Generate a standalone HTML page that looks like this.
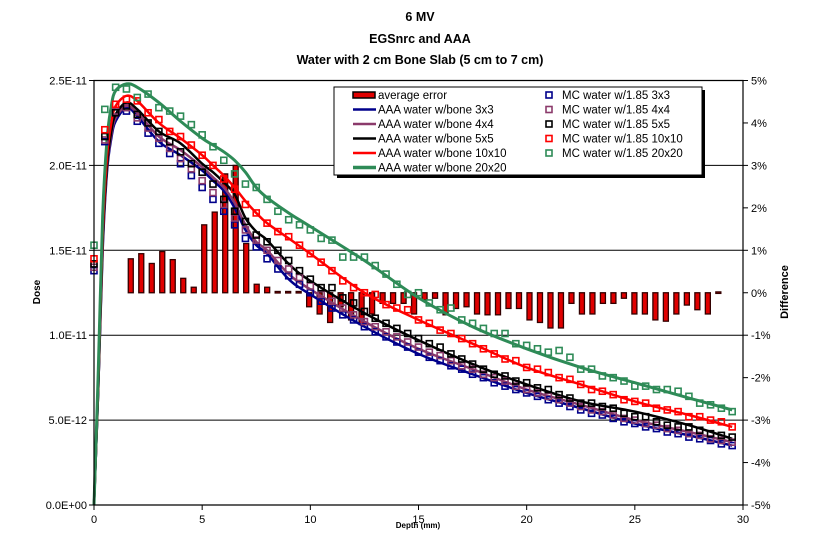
<!DOCTYPE html>
<html><head><meta charset="utf-8"><style>
html,body{margin:0;padding:0;background:#fff;}
svg{display:block;font-family:"Liberation Sans",Arial,sans-serif;}
</style></head><body>
<svg id="chart" width="834" height="552" viewBox="0 0 834 552">
<g font-weight="bold" font-size="12.5" text-anchor="middle" fill="#000">
<text x="420" y="21">6 MV</text>
<text x="420" y="43">EGSnrc and AAA</text>
<text x="420" y="64">Water with 2 cm Bone Slab (5 cm to 7 cm)</text>
</g>
<g id="grid"></g>
<g id="bars"></g>
<g id="lines"></g>
<g id="marks"></g>
<g id="axes"></g>
<text x="40" y="292" transform="rotate(-90 40 292)" text-anchor="middle" font-size="10" font-weight="bold">Dose</text>
<text x="788" y="292" transform="rotate(-90 788 292)" text-anchor="middle" font-size="11" font-weight="bold">Difference</text>
<text x="418" y="528" text-anchor="middle" font-size="8" font-weight="bold">Depth (mm)</text>
<g id="legend"></g>
</svg>
<script>
const lineDepths=[0,0.2,0.4,0.6,0.8,1,1.5,2,3,4,5,5.5,6,6.5,7,7.5,8,9,10,12.5,15,17.5,20,22.5,25,27.5,29.5];
const aaa3=[0,7,15,19.6,21.6,22.6,23.4,22.9,21.4,20.6,19.7,19.1,18.5,17.5,16.2,15.3,14.8,13.3,12.4,10.5,8.9,7.7,6.6,5.7,4.8,4.1,3.5];
const aaa4=[0,7,15.3,19.8,21.8,22.8,23.5,23.1,21.7,20.9,19.9,19.3,18.7,17.8,16.5,15.5,15.0,13.6,12.7,10.8,9.2,8.0,6.8,5.9,5.0,4.3,3.7];
const aaa5=[0,7,15.5,20,22,23,23.7,23.3,22.0,21.3,20.1,19.6,19.0,18.3,16.9,16.1,15.6,14.2,13.2,11.3,9.7,8.3,7.1,6.1,5.5,4.7,3.9];
const aaa10=[0,7.5,16,20.5,22.5,23.5,24.1,23.8,22.5,21.6,20.6,20.0,19.4,18.7,17.9,17.2,16.6,15.7,14.8,12.5,10.9,9.5,8.1,7.1,6.1,5.3,4.6];
const aaa20=[0,8,17,21.5,23.5,24.4,24.8,24.6,23.7,22.6,21.6,21.2,20.8,20.3,19.6,18.7,18.1,17.2,16.4,14.4,12.2,10.5,9.2,8.1,7.2,6.3,5.6];
const mcStep=0.5;
const mc3=[13.8,21.4,23.1,23.2,22.6,21.9,21.3,20.7,20.1,19.4,18.7,18.0,17.3,16.5,15.7,15.2,14.5,13.9,13.5,13.0,12.5,12.0,11.6,11.2,10.9,10.5,10.2,9.9,9.6,9.3,9.0,8.7,8.5,8.2,8.0,7.7,7.5,7.2,7.0,6.8,6.6,6.4,6.2,6.0,5.8,5.6,5.4,5.3,5.1,4.9,4.8,4.6,4.5,4.3,4.2,4.0,3.9,3.8,3.6,3.5];
const mc4=[14.0,21.5,23.2,23.4,22.8,22.2,21.6,21.0,20.4,19.8,19.1,18.4,17.7,16.9,16.2,15.6,15.0,14.4,13.9,13.4,12.9,12.4,12.0,11.6,11.2,10.8,10.5,10.2,9.9,9.6,9.3,9.0,8.8,8.5,8.2,8.0,7.7,7.5,7.3,7.0,6.8,6.6,6.4,6.2,6.0,5.8,5.6,5.5,5.3,5.1,5.0,4.8,4.7,4.5,4.4,4.2,4.1,3.9,3.8,3.7];
const mc5=[14.2,21.7,23.1,23.5,23.0,22.5,22.0,21.4,20.8,20.1,19.6,18.9,18.0,17.3,16.7,15.9,15.5,15.0,14.4,13.8,13.3,12.8,12.8,12.2,11.9,11.4,11.0,10.7,10.4,10.1,9.8,9.5,9.3,8.9,8.6,8.3,8.0,7.7,7.6,7.3,7.2,6.9,6.8,6.5,6.3,6.0,6.0,5.8,5.7,5.4,5.2,5.2,4.9,4.7,4.6,4.6,4.4,4.2,4.1,4.0];
const mc10=[14.5,22.1,23.6,23.9,23.8,23.1,22.7,22.0,21.7,21.2,20.6,20.0,19.2,18.6,17.7,17.2,16.6,16.1,15.8,15.3,14.8,14.3,13.8,13.2,12.8,12.5,12.4,11.8,11.6,11.5,10.9,10.7,10.3,10.1,9.8,9.5,9.2,8.9,8.6,8.5,8.1,8.0,7.8,7.5,7.4,7.1,6.8,6.7,6.5,6.2,6.1,6.0,5.7,5.6,5.5,5.2,5.2,5.0,4.9,4.6];
const mc20=[15.3,23.3,24.6,24.5,24.0,24.2,23.4,23.2,22.9,22.4,21.8,21.1,20.3,19.5,18.9,18.7,18.0,17.3,16.8,16.5,16.2,15.7,15.6,14.6,14.6,14.6,14.1,13.6,13.0,12.4,12.5,11.9,11.5,11.6,10.9,10.7,10.4,10.1,10.1,9.5,9.4,9.2,9.0,9.1,8.7,8.0,8.0,7.6,7.5,7.3,7.0,7.0,6.8,6.8,6.7,6.4,6.0,5.9,5.7,5.5];
const barStart=1.7, barStep=0.485;
const errPct=[0.8,0.92,0.69,0.97,0.78,0.34,0.13,1.6,1.9,2.8,3.0,1.16,0.2,0.13,0.03,0.03,0.03,-0.33,-0.5,-0.7,-0.33,-0.64,-0.75,-0.5,-0.25,-0.25,-0.25,-0.5,-0.17,-0.13,-0.52,-0.37,-0.33,-0.5,-0.52,-0.52,-0.37,-0.37,-0.64,-0.7,-0.83,-0.83,-0.25,-0.5,-0.5,-0.25,-0.25,-0.13,-0.5,-0.5,-0.64,-0.67,-0.5,-0.29,-0.4,-0.5,0.02];
const yTicks=[0,5,10,15,20,25];
const yTickLabels=["0.0E+00","5.0E-12","1.0E-11","1.5E-11","2.0E-11","2.5E-11"];
const y2Ticks=[-5,-4,-3,-2,-1,0,1,2,3,4,5];
const xTicks=[0,5,10,15,20,25,30];

const X0=94,X1=743,Y0=505,Y1=80.5;
const sx=d=>X0+(X1-X0)*d/30;
const sy=v=>Y0-(Y0-Y1)*v/25;
const sy2=p=>Y0-(Y0-Y1)*(p+5)/10;
const NS="http://www.w3.org/2000/svg";
function mk(tag,parent,attrs){const e=document.createElementNS(NS,tag);for(const k in attrs)e.setAttribute(k,attrs[k]);parent.appendChild(e);return e;}
const grid=document.getElementById('grid'),axes=document.getElementById('axes');
yTicks.forEach((t,i)=>{
 if(t>0){const g=mk('line',grid,{x1:X0,x2:X1,y1:sy(t),y2:sy(t),stroke:'#000','stroke-width':1});
 
 }
 const tk=mk('line',axes,{x1:X0-5,x2:X0,y1:sy(t),y2:sy(t),stroke:'#000'});
 
 
 const tx=mk('text',axes,{x:X0-7,y:sy(t)+4,'text-anchor':'end','font-size':11});
 tx.textContent=yTickLabels[i];
 
 
});
y2Ticks.forEach(p=>{
 const tk=mk('line',axes,{x1:X1,x2:X1+5,y1:sy2(p),y2:sy2(p),stroke:'#000'});
 
 
 const tx=mk('text',axes,{x:X1+8,y:sy2(p)+4,'font-size':11});
 tx.textContent=p+'%';
 
 
});
xTicks.forEach(t=>{
 const tk=mk('line',axes,{x1:sx(t),x2:sx(t),y1:Y0,y2:Y0+5,stroke:'#000'});
 
 
 const tx=mk('text',axes,{x:sx(t),y:Y0+18,'text-anchor':'middle','font-size':11});
 tx.textContent=t;
 
 
});
const frame=mk('path',axes,{d:`M${X0},${Y1}H${X1}V${Y0}H${X0}Z`,fill:'none',stroke:'#000','stroke-width':1.2});



const bars=document.getElementById('bars');
errPct.forEach((p,i)=>{
 const cx=sx(barStart+i*barStep);const y=Math.min(sy2(p),sy2(0));const h=Math.max(Math.abs(sy2(p)-sy2(0)),1.5);
 const r=mk('rect',bars,{x:cx-2.5,y:y,width:5,height:h,fill:'#e00000',stroke:'#300',"stroke-width":1.3});
 
 
});

const series=[
 {line:aaa3,mc:mc3,c:'#00008b',n:'3x3'},
 {line:aaa4,mc:mc4,c:'#8b3a6b',n:'4x4'},
 {line:aaa5,mc:mc5,c:'#000000',n:'5x5'},
 {line:aaa10,mc:mc10,c:'#ff0000',n:'10x10'},
 {line:aaa20,mc:mc20,c:'#2e8b57',n:'20x20'}];
const lines=document.getElementById('lines'),marks=document.getElementById('marks');
function smooth(pts){let d=`M${pts[0][0]},${pts[0][1]}`;for(let i=0;i<pts.length-1;i++){const p0=pts[i-1]||pts[i],p1=pts[i],p2=pts[i+1],p3=pts[i+2]||p2;
 d+=` C${p1[0]+(p2[0]-p0[0])/6},${p1[1]+(p2[1]-p0[1])/6} ${p2[0]-(p3[0]-p1[0])/6},${p2[1]-(p3[1]-p1[1])/6} ${p2[0]},${p2[1]}`;}return d;}
series.forEach(s=>{
 const pts=lineDepths.map((d,i)=>[sx(d),sy(s.line[i])]);
 const p=mk('path',lines,{d:smooth(pts),fill:'none',stroke:s.c,'stroke-width':s.n==='20x20'?3:2.5});
 
 
});
series.forEach(s=>{
 s.mc.forEach((v,i)=>{
  const r=mk('rect',marks,{x:sx(i*mcStep)-3,y:sy(v)-3,width:6,height:6,fill:'none',stroke:s.c,'stroke-width':1.6});
  
  
 });
});

const lg=document.getElementById('legend');
mk('rect',lg,{x:337,y:90,width:368,height:88,fill:'#000'});
const lb=mk('rect',lg,{x:334,y:87,width:368,height:88,fill:'#fff',stroke:'#000','stroke-width':1});


const rowY=[95,109.5,124,138.5,153,167.5];
const sw=mk('rect',lg,{x:353,y:rowY[0]-3,width:22,height:6,fill:'#e00000',stroke:'#000','stroke-width':1.5});


const t0=mk('text',lg,{x:378,y:rowY[0]+4,'font-size':11.5});
t0.textContent='average error';


series.forEach((s,i)=>{
 const y=rowY[i+1];
 const l=mk('line',lg,{x1:353,x2:376,y1:y,y2:y,stroke:s.c,'stroke-width':s.n==='20x20'?3.5:2.5});
 
 
 const t=mk('text',lg,{x:378,y:y+4,'font-size':11.5});
 t.textContent='AAA water w/bone '+s.n;
 
 
 const ym=rowY[i];
 const m=mk('rect',lg,{x:546,y:ym-3,width:6,height:6,fill:'none',stroke:s.c,'stroke-width':1.6});
 
 
 const t2=mk('text',lg,{x:562,y:ym+4,'font-size':11.5});
 t2.textContent='MC water w/1.85 '+s.n;
 
 
});
</script>
</body></html>
